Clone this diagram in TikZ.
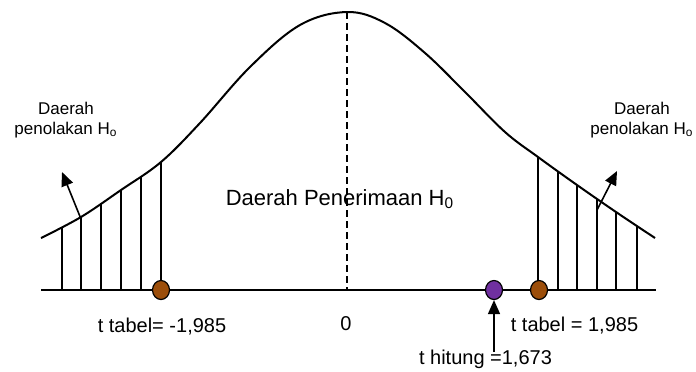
\documentclass[tikz,border=0pt]{standalone}
\usepackage{fontspec}
\setmainfont{Liberation Sans}
\usetikzlibrary{arrows.meta,shapes.geometric,intersections}
\definecolor{dotbrown}{RGB}{156,78,10}
\definecolor{dotpurple}{RGB}{112,48,160}
\tikzset{
  curveline/.style={line width=1pt},
  hatchline/.style={line width=0.8pt},
  axisline/.style={line width=1pt},
  midline/.style={line width=0.9pt,dash pattern=on 3.5pt off 2pt},
  dotbase/.style={ellipse,draw=black,line width=0.6pt,minimum width=8.5pt,minimum height=9.5pt,inner sep=0pt},
  dotb/.style={dotbase,fill=dotbrown},
  dotp/.style={dotbase,fill=dotpurple},
  arrowline/.style={line width=0.8pt,-{Triangle[length=7pt,width=6pt]}},
  biglbl/.style={font=\fontsize{11}{13}\selectfont,inner sep=0pt,anchor=base},
  lbl/.style={font=\fontsize{10}{12}\selectfont,inner sep=0pt,anchor=base},
  smalllbl/.style={font=\fontsize{8.5}{10}\selectfont,inner sep=0pt,align=center}
}
\begin{document}
\begin{tikzpicture}[x=0.5pt,y=-0.5pt]
\useasboundingbox (0,0) rectangle (696,371);

% bell curve
\draw[curveline,name path=curve] plot[smooth,tension=0.6] coordinates {
  (41,238) (81,217) (121,190) (161,162) (200,123) (250,67) (300,25) (347,12)
  (385,23) (425,53) (465,92) (505,132) (538,157) (577,185) (616,212) (655,238)};

% hatch lines in rejection regions
\foreach \x in {62,81,101,121,141,161,538,558,577,597,616,637} {
  \path[name path=vl] (\x,295) -- (\x,0);
  \draw[hatchline,name intersections={of=curve and vl,by=top}] (\x,290) -- (top);
}

% axis
\coordinate (axL) at (41,290);
\coordinate (axR) at (656,290);
\draw[axisline] (axL) -- (axR);

% dashed centre line
\coordinate (peak) at (347,12);
\coordinate (zero) at (347,290);
\draw[midline] (peak) -- (zero);

% dots
\node[dotb] (tl) at (161,290) {};
\node[dotb] (tr) at (539,290) {};
\node[dotp] (th) at (494,290) {};

% arrows
\coordinate (la0) at (81,219);
\coordinate (la1) at (62,172);
\draw[arrowline] (la0) -- (la1);
\coordinate (ra0) at (597,210);
\coordinate (ra1) at (617,171);
\draw[arrowline] (ra0) -- (ra1);
\coordinate (ha) at (494,352);
\draw[arrowline] (ha) -- (th.south);

% labels
\node[biglbl] (acc) at (340,205) {Daerah Penerimaan H\textsubscript{0}};
\node[smalllbl] (rejL) at (66,119.6) {Daerah\\penolakan H\textsubscript{o}};
\node[smalllbl] (rejR) at (642,119.6) {Daerah\\penolakan H\textsubscript{o}};
\node[lbl] (ltl) at (162,332) {t tabel= -1,985};
\node[lbl] (lzero) at (346,330) {0};
\node[lbl] (ltr) at (574.5,331) {t tabel = 1,985};
\node[lbl] (lth) at (485.5,364) {t hitung =1,673};
\end{tikzpicture}
\end{document}
